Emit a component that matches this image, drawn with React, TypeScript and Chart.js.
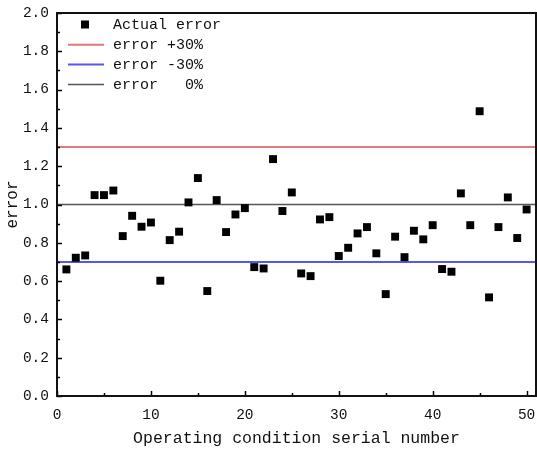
import React, { useEffect, useRef } from 'react';
import { Chart, registerables } from 'chart.js';

Chart.register(...registerables);

// ---- data ----
const serialNumbers = [
  1, 2, 3, 4, 5, 6, 7, 8, 9, 10,
  11, 12, 13, 14, 15, 16, 17, 18, 19, 20,
  21, 22, 23, 24, 25, 26, 27, 28, 29, 30,
  31, 32, 33, 34, 35, 36, 37, 38, 39, 40,
  41, 42, 43, 44, 45, 46, 47, 48, 49, 50,
];
const actualError = [
  0.661, 0.722, 0.734, 1.049, 1.049, 1.073, 0.835, 0.941, 0.884, 0.906,
  0.602, 0.814, 0.858, 1.011, 1.138, 0.548, 1.023, 0.856, 0.948, 0.981,
  0.673, 0.666, 1.237, 0.966, 1.063, 0.640, 0.626, 0.922, 0.934, 0.731,
  0.774, 0.849, 0.882, 0.745, 0.532, 0.832, 0.725, 0.863, 0.818, 0.892,
  0.663, 0.649, 1.058, 0.892, 1.487, 0.515, 0.882, 1.037, 0.825, 0.974,
];
const seriesLabel = 'Actual error';
const referenceLabels = ['error +30%', 'error -30%', 'error   0%'];
const referenceLevels = [1.3, 0.7, 1.0];
const referenceColors = ['#e27a7a', '#5757f0', '#555555'];
const referenceWidths = [2, 2, 1.5];

const xRange = [0, 51];
const yRange = [0, 2];
const xTicks = [0, 10, 20, 30, 40, 50];
const xMinorTicks = [5, 15, 25, 35, 45];
const yTicks = [0, 0.2, 0.4, 0.6, 0.8, 1.0, 1.2, 1.4, 1.6, 1.8, 2.0];
const yMinorTicks = [0.1, 0.3, 0.5, 0.7, 0.9, 1.1, 1.3, 1.5, 1.7, 1.9];
const xTitle = 'Operating condition serial number';
const yTitle = 'error';

const FONT = '"Liberation Mono", "DejaVu Sans Mono", monospace';
const TEXT = '#111111';

const framePlugin = {
  id: 'framePlugin',
  afterDraw(chart: any) {
    const { ctx, chartArea } = chart;
    const { left, right, top, bottom } = chartArea;
    const xs = chart.scales.x;
    const ys = chart.scales.y;
    ctx.save();
    // ticks (inward)
    ctx.strokeStyle = '#000';
    ctx.lineWidth = 1.5;
    ctx.beginPath();
    yTicks.forEach((v) => {
      const p = Math.round(ys.getPixelForValue(v)) + 0.5;
      ctx.moveTo(left, p);
      ctx.lineTo(left + 5, p);
    });
    yMinorTicks.forEach((v) => {
      const p = Math.round(ys.getPixelForValue(v)) + 0.5;
      ctx.moveTo(left, p);
      ctx.lineTo(left + 3, p);
    });
    xTicks.forEach((v) => {
      const p = Math.round(xs.getPixelForValue(v)) + 0.5;
      ctx.moveTo(p, bottom);
      ctx.lineTo(p, bottom - 5);
    });
    xMinorTicks.forEach((v) => {
      const p = Math.round(xs.getPixelForValue(v)) + 0.5;
      ctx.moveTo(p, bottom);
      ctx.lineTo(p, bottom - 3);
    });
    ctx.stroke();
    // frame
    ctx.lineWidth = 2;
    ctx.strokeStyle = '#111';
    ctx.strokeRect(left, top, right - left, bottom - top);

    // x tick labels
    ctx.font = `14.5px ${FONT}`;
    ctx.fillStyle = TEXT;
    ctx.textAlign = 'center';
    ctx.textBaseline = 'middle';
    xTicks.forEach((v) => {
      ctx.fillText(String(v), xs.getPixelForValue(v), bottom + 19);
    });

    // legend
    ctx.font = `15px ${FONT}`;
    ctx.textBaseline = 'middle';
    ctx.textAlign = 'left';
    ctx.fillStyle = TEXT;
    const rowY = (i: number) => top + 11.5 + i * 19.8;
    const textX = left + 56;
    chart.data.datasets.forEach((ds: any, i: number) => {
      const y = rowY(i);
      if (ds.showLine) {
        ctx.strokeStyle = ds.borderColor;
        ctx.lineWidth = ds.borderWidth;
        ctx.beginPath();
        ctx.moveTo(left + 11, y + 0.5);
        ctx.lineTo(left + 47, y + 0.5);
        ctx.stroke();
      } else {
        ctx.fillStyle = ds.backgroundColor;
        ctx.fillRect(left + 28 - 4, y - 4, 8, 8);
      }
      ctx.fillStyle = TEXT;
      ctx.fillText(ds.label, textX, y + 1);
    });
    ctx.restore();
  },
};

export default function App() {
  const ref = useRef<HTMLCanvasElement | null>(null);

  useEffect(() => {
    if (!ref.current) return;
    const datasets: any[] = [
      {
        label: seriesLabel,
        data: serialNumbers.map((x, i) => ({ x, y: actualError[i] })),
        backgroundColor: '#000000',
        borderColor: '#000000',
        borderWidth: 0,
        pointStyle: 'rect',
        pointRadius: 5.6,
        showLine: false,
        order: 0,
      },
      ...referenceLevels.map((lvl, i) => ({
        label: referenceLabels[i],
        data: [
          { x: xRange[0], y: lvl },
          { x: xRange[1], y: lvl },
        ],
        showLine: true,
        borderColor: referenceColors[i],
        backgroundColor: referenceColors[i],
        borderWidth: referenceWidths[i],
        pointRadius: 0,
        fill: false,
        order: 1,
      })),
    ];
    const chart = new Chart(ref.current, {
      type: 'scatter',
      data: { datasets },
      options: {
        animation: false,
        responsive: false,
        maintainAspectRatio: false,
        layout: { autoPadding: false, padding: { top: 13, right: 1, left: 0, bottom: 0 } },
        plugins: {
          legend: { display: false },
          tooltip: { enabled: false },
        },
        scales: {
          x: {
            type: 'linear',
            min: xRange[0],
            max: xRange[1],
            afterBuildTicks: (s: any) => {
              s.ticks = xTicks.map((v) => ({ value: v }));
            },
            afterFit: (s: any) => {
              s.height = 55;
              s.paddingLeft = 0;
              s.paddingRight = 0;
            },
            grid: { display: false, drawTicks: false },
            border: { display: false },
            ticks: { display: false },
            title: {
              display: true,
              text: xTitle,
              color: TEXT,
              font: { family: FONT, size: 16.5 },
              padding: { top: 0, bottom: 2 },
            },
          },
          y: {
            type: 'linear',
            min: yRange[0],
            max: yRange[1],
            afterBuildTicks: (s: any) => {
              s.ticks = yTicks.map((v) => ({ value: v }));
            },
            afterFit: (s: any) => {
              s.width = 57;
              s.paddingTop = 0;
              s.paddingBottom = 0;
            },
            grid: { display: false, drawTicks: false },
            border: { display: false },
            ticks: {
              autoSkip: false,
              padding: 8,
              color: TEXT,
              font: { family: FONT, size: 14.5 },
              callback: (v: any) => Number(v).toFixed(1),
            },
            title: {
              display: true,
              text: yTitle,
              color: TEXT,
              font: { family: FONT, size: 16 },
              padding: { top: 3, bottom: 0 },
            },
          },
        },
      },
      plugins: [framePlugin],
    });
    return () => chart.destroy();
  }, []);

  return (
    <div style={{ position: 'absolute', left: 0, top: 0, width: 537, height: 451, background: '#fff' }}>
      <canvas ref={ref} width={537} height={451} style={{ width: 537, height: 451, display: 'block' }} />
    </div>
  );
}
